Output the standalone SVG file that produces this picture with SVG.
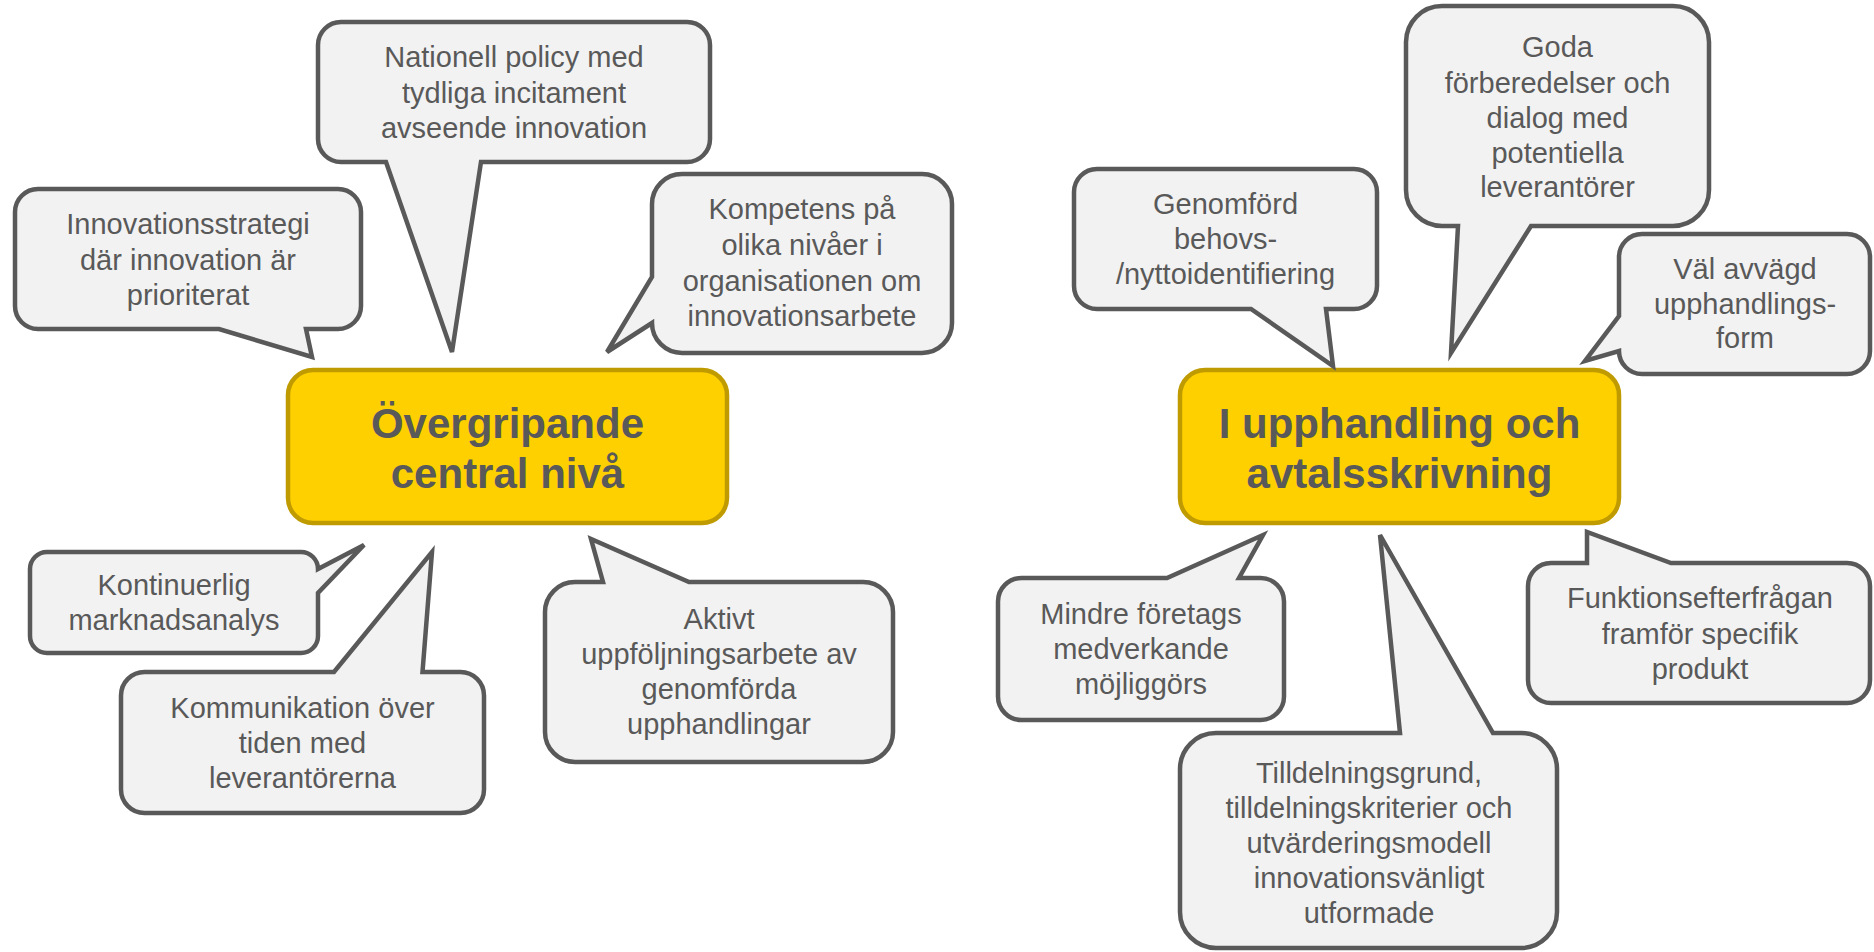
<svg xmlns="http://www.w3.org/2000/svg" width="1874" height="952" viewBox="0 0 1874 952">
<style>
.c{fill:#F2F2F2;stroke:#595959;stroke-width:4.5;stroke-linejoin:miter}
.m{fill:#FFD000;stroke:#BF9B00;stroke-width:4.5}
.t{font-family:"Liberation Sans",Arial,sans-serif;font-size:29px;fill:#595959;text-anchor:middle}
.h{font-family:"Liberation Sans",Arial,sans-serif;font-size:42px;font-weight:bold;fill:#595959;text-anchor:middle}
</style>
<rect width="1874" height="952" fill="#FFFFFF"/>
<g id="connectors"></g>
<g id="n-central">
<rect class="m" x="288" y="370" width="439" height="153" rx="25"/>
<text class="h" x="507.5" y="437.5">Övergripande</text>
<text class="h" x="507.5" y="487.5">central nivå</text>
</g>
<g id="n-upphandling">
<rect class="m" x="1180" y="370" width="439" height="153" rx="25"/>
<text class="h" x="1399.5" y="437.5">I upphandling och</text>
<text class="h" x="1399.5" y="487.5">avtalsskrivning</text>
</g>
<g id="n-nationell">
<path class="c" d="M341 22H687A23 23 0 0 1 710 45V139A23 23 0 0 1 687 162H481L452 352L386 162H341A23 23 0 0 1 318 139V45A23 23 0 0 1 341 22Z"/>
<text class="t" x="514" y="67">Nationell policy med</text>
<text class="t" x="514" y="102.5">tydliga incitament</text>
<text class="t" x="514" y="138">avseende innovation</text>
</g>
<g id="n-strategi">
<path class="c" d="M38 189H338A23 23 0 0 1 361 212V306A23 23 0 0 1 338 329H306L312 357L219 329H38A23 23 0 0 1 15 306V212A23 23 0 0 1 38 189Z"/>
<text class="t" x="188" y="234">Innovationsstrategi</text>
<text class="t" x="188" y="269.5">där innovation är</text>
<text class="t" x="188" y="304.5">prioriterat</text>
</g>
<g id="n-kompetens">
<path class="c" d="M682 174H922A30 30 0 0 1 952 204V323A30 30 0 0 1 922 353H682A30 30 0 0 1 652 323L607 352L652 277V204A30 30 0 0 1 682 174Z"/>
<text class="t" x="802" y="218.5">Kompetens på</text>
<text class="t" x="802" y="254.5">olika nivåer i</text>
<text class="t" x="802" y="290.5">organisationen om</text>
<text class="t" x="802" y="326">innovationsarbete</text>
</g>
<g id="n-kontinuerlig">
<path class="c" d="M47 552H301A17 17 0 0 1 318 569L364 545L318 593V636A17 17 0 0 1 301 653H47A17 17 0 0 1 30 636V569A17 17 0 0 1 47 552Z"/>
<text class="t" x="174" y="595">Kontinuerlig</text>
<text class="t" x="174" y="630">marknadsanalys</text>
</g>
<g id="n-kommunikation">
<path class="c" d="M144.5 672H334L432 552L422.5 672H460.5A23.5 23.5 0 0 1 484 695.5V789.5A23.5 23.5 0 0 1 460.5 813H144.5A23.5 23.5 0 0 1 121 789.5V695.5A23.5 23.5 0 0 1 144.5 672Z"/>
<text class="t" x="302.5" y="718">Kommunikation över</text>
<text class="t" x="302.5" y="753">tiden med</text>
<text class="t" x="302.5" y="788">leverantörerna</text>
</g>
<g id="n-aktivt">
<path class="c" d="M575 582H603L591 539L689 582H863A30 30 0 0 1 893 612V732A30 30 0 0 1 863 762H575A30 30 0 0 1 545 732V612A30 30 0 0 1 575 582Z"/>
<text class="t" x="719" y="629">Aktivt</text>
<text class="t" x="719" y="664">uppföljningsarbete av</text>
<text class="t" x="719" y="699">genomförda</text>
<text class="t" x="719" y="733.5">upphandlingar</text>
</g>
<g id="n-genomford">
<path class="c" d="M1097 169H1354A23 23 0 0 1 1377 192V286A23 23 0 0 1 1354 309H1326L1333 366L1251 309H1097A23 23 0 0 1 1074 286V192A23 23 0 0 1 1097 169Z"/>
<text class="t" x="1225.5" y="214">Genomförd</text>
<text class="t" x="1225.5" y="249">behovs-</text>
<text class="t" x="1225.5" y="284">/nyttoidentifiering</text>
</g>
<g id="n-goda">
<path class="c" d="M1442 6H1673A36 36 0 0 1 1709 42V190A36 36 0 0 1 1673 226H1531L1451 353L1458 226H1442A36 36 0 0 1 1406 190V42A36 36 0 0 1 1442 6Z"/>
<text class="t" x="1557.5" y="57">Goda</text>
<text class="t" x="1557.5" y="92.5">förberedelser och</text>
<text class="t" x="1557.5" y="127.5">dialog med</text>
<text class="t" x="1557.5" y="162.5">potentiella</text>
<text class="t" x="1557.5" y="197">leverantörer</text>
</g>
<g id="n-val">
<path class="c" d="M1642 234H1847A23 23 0 0 1 1870 257V351A23 23 0 0 1 1847 374H1642A23 23 0 0 1 1619 351L1585 361L1619 316V257A23 23 0 0 1 1642 234Z"/>
<text class="t" x="1745" y="278.5">Väl avvägd</text>
<text class="t" x="1745" y="313.5">upphandlings-</text>
<text class="t" x="1745" y="348">form</text>
</g>
<g id="n-mindre">
<path class="c" d="M1021.5 578H1167L1263 535L1239 578H1260.5A23.5 23.5 0 0 1 1284 601.5V696.5A23.5 23.5 0 0 1 1260.5 720H1021.5A23.5 23.5 0 0 1 998 696.5V601.5A23.5 23.5 0 0 1 1021.5 578Z"/>
<text class="t" x="1141" y="624">Mindre företags</text>
<text class="t" x="1141" y="659">medverkande</text>
<text class="t" x="1141" y="694">möjliggörs</text>
</g>
<g id="n-tilldelning">
<path class="c" d="M1216 733H1400L1380 535L1493 733H1521A36 36 0 0 1 1557 769V912A36 36 0 0 1 1521 948H1216A36 36 0 0 1 1180 912V769A36 36 0 0 1 1216 733Z"/>
<text class="t" x="1369" y="783">Tilldelningsgrund,</text>
<text class="t" x="1369" y="818">tilldelningskriterier och</text>
<text class="t" x="1369" y="853">utvärderingsmodell</text>
<text class="t" x="1369" y="888">innovationsvänligt</text>
<text class="t" x="1369" y="923">utformade</text>
</g>
<g id="n-funktion">
<path class="c" d="M1551 563H1587L1587 532L1671 563H1847A23 23 0 0 1 1870 586V680A23 23 0 0 1 1847 703H1551A23 23 0 0 1 1528 680V586A23 23 0 0 1 1551 563Z"/>
<text class="t" x="1700" y="608">Funktionsefterfrågan</text>
<text class="t" x="1700" y="643.5">framför specifik</text>
<text class="t" x="1700" y="679">produkt</text>
</g>
</svg>
